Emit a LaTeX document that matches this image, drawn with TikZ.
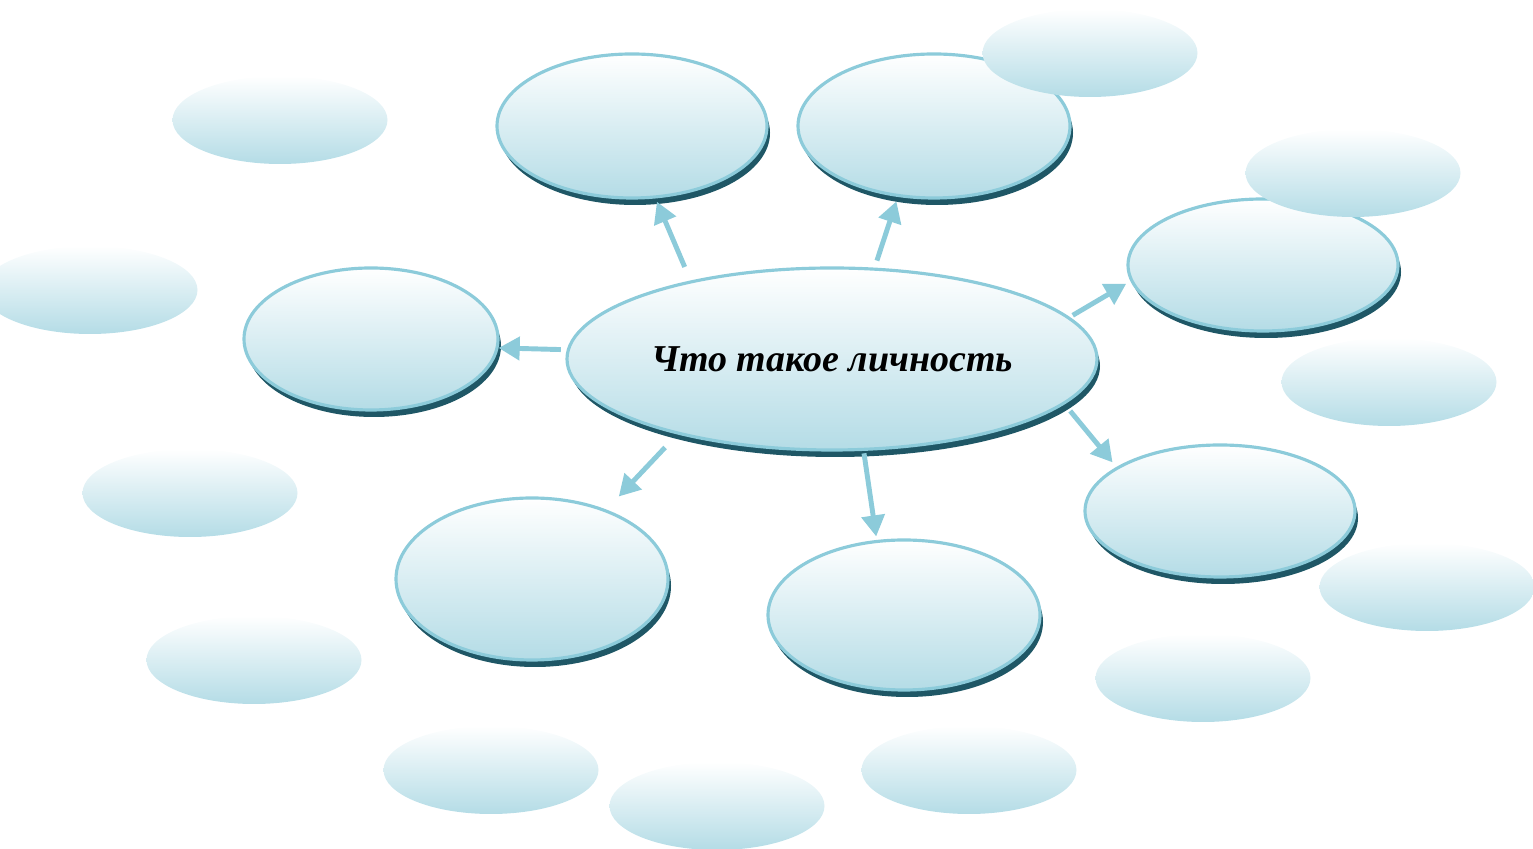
\documentclass[tikz,border=0pt]{standalone}
\usepackage{fontspec}
\setmainfont{Liberation Serif}
\usetikzlibrary{shapes.geometric, shadows, arrows.meta}
\definecolor{rim}{HTML}{8CCBDA}
\definecolor{deep}{HTML}{B4DCE6}
\definecolor{shade}{HTML}{1F5766}
\begin{document}
\begin{tikzpicture}[
		bubble/.style={ellipse, draw=rim, line width=0.9pt, top color=white, bottom color=deep, inner sep=0pt,
			general shadow={fill=shade, shadow xshift=0.3mm, shadow yshift=-0.7mm}},
		puff/.style={ellipse, top color=white, bottom color=deep, inner sep=0pt,
			minimum width=2.15cm, minimum height=0.88cm},
		arr/.style={draw=rim, line width=1.4pt, -{Triangle[length=6pt,width=6.5pt]}}]
					\useasboundingbox (0,0) rectangle (15.33,8.49);
					\node (M) at (8.32,4.90)  [bubble, minimum width=5.30cm, minimum height=1.82cm] {\fontsize{10.8}{13}\selectfont\bfseries\itshape Что такое личность};
					\node (A) at (6.32,7.23)  [bubble, minimum width=2.70cm, minimum height=1.44cm] {};
					\node (B) at (9.34,7.23)  [bubble, minimum width=2.72cm, minimum height=1.44cm] {};
					\node (C) at (3.71,5.10)  [bubble, minimum width=2.54cm, minimum height=1.42cm] {};
					\node (D) at (12.63,5.84) [bubble, minimum width=2.70cm, minimum height=1.32cm] {};
					\node (E) at (12.20,3.38) [bubble, minimum width=2.70cm, minimum height=1.32cm] {};
					\node (F) at (9.04,2.34)  [bubble, minimum width=2.72cm, minimum height=1.50cm] {};
					\node (G) at (5.32,2.70)  [bubble, minimum width=2.72cm, minimum height=1.62cm] {};
					% empty clouds around the map
					\node (s1) at (2.80,7.29)  [puff] {};
					\node (s2) at (0.90,5.59)  [puff] {};
					\node (s3) at (1.90,3.56)  [puff] {};
					\node (s4) at (2.54,1.89)  [puff] {};
					\node (s5) at (4.91,0.79)  [puff] {};
					\node (s6) at (7.17,0.43)  [puff] {};
					\node (s7) at (9.69,0.79)  [puff] {};
					\node (s8) at (12.03,1.71) [puff] {};
					\node (s9) at (14.27,2.62) [puff] {};
					\node (s10) at (13.89,4.67) [puff] {};
					\node (s11) at (13.53,6.76) [puff] {};
					\node (s12) at (10.90,7.96) [puff] {};
					% arrows from the centre
					\draw[arr, shorten <=4.2pt, shorten >=1pt]   (M.151)  -- (A.-72);
					\draw[arr, shorten <=2.1pt, shorten >=1.3pt] (M.65)   -- (B.-117);
					\draw[arr, shorten <=1.7pt]                  (M.178)  -- (C.-4);
					\draw[arr, shorten <=1pt, shorten >=1.4pt]   (M.10)   -- (D.187);
					\draw[arr, shorten <=2.5pt, shorten >=1.7pt] (M.-11)  -- (E.157);
					\draw[arr, shorten <=0.7pt, shorten >=1pt]   (M.-71)  -- (F.110);
					\draw[arr, shorten <=5.1pt, shorten >=5.1pt] (M.-154) -- (G.43);
			\end{tikzpicture}
\end{document}
